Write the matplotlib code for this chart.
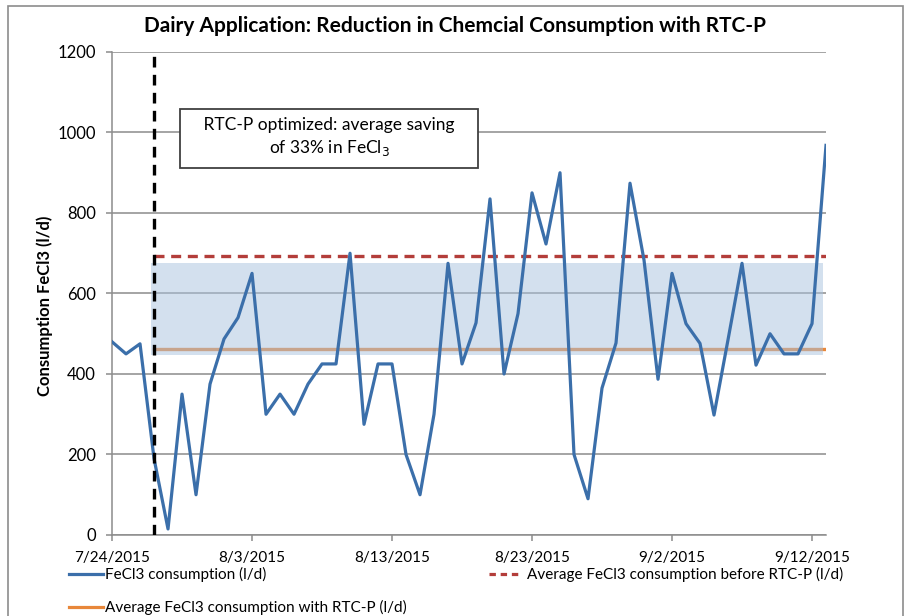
import pandas as pd
import matplotlib.pyplot as plt
from matplotlib.lines import Line2D
from matplotlib.patches import Rectangle

plt.rcParams['font.family'] = ['Lato', 'DejaVu Sans']

# daily FeCl3 consumption (l/d), 7/24/2015 - 9/13/2015
start = '2015-07-24'
consumption = [480, 450, 475, 190, 15, 350, 100, 375, 487, 540,
               650, 300, 350, 300, 375, 425, 425, 700, 275, 425,
               425, 200, 100, 300, 675, 425, 527, 835, 400, 550,
               850, 723, 900, 200, 90, 365, 477, 874, 683, 387,
               650, 525, 476, 298, 485, 675, 422, 500, 450, 450,
               525, 968]
dates = pd.date_range(start, periods=len(consumption), freq='D')

rtc_start = pd.Timestamp('2015-07-27')
avg_before = 693
avg_with = 463
band_low, band_high = 447, 675
band_start = pd.Timestamp('2015-07-26 18:00')
band_end = pd.Timestamp('2015-09-12 18:00')

tick_dates = pd.to_datetime(['2015-07-24', '2015-08-03', '2015-08-13',
                             '2015-08-23', '2015-09-02', '2015-09-12'])
tick_labels = ['7/24/2015', '8/3/2015', '8/13/2015', '8/23/2015', '9/2/2015', '9/12/2015']

blue = '#3b6faa'
red = '#b33d3a'
orange = '#e8873a'

fig = plt.figure(figsize=(9.1, 6.16), dpi=100)
ax = fig.add_axes([0.1231, 0.1315, 0.7846, 0.7841])

# outer chart border
fig.patches.append(Rectangle((0.009, -0.02), 0.983, 1.01, transform=fig.transFigure,
                             fill=False, edgecolor='#8c8c8c', lw=1.2))

ax.plot([rtc_start, dates[-1]], [avg_with, avg_with], color=orange, lw=2.4, zorder=2)
ax.fill_between([band_start, band_end], band_low, band_high, color='#a8c2de',
                alpha=0.5, lw=0, zorder=3)
ax.plot([rtc_start, dates[-1]], [avg_before, avg_before], color=red, lw=2.4,
        dashes=(3, 2), zorder=4)
ax.plot(dates, consumption, color=blue, lw=2.3, zorder=5)
ax.axvline(rtc_start, color='black', lw=2.4, dashes=(3.2, 2.2), zorder=6)

ax.set_xlim(dates[0], dates[-1])
ax.set_ylim(0, 1200)
ax.set_yticks(range(0, 1201, 200))
ax.set_xticks(tick_dates)
ax.set_xticklabels(tick_labels)
ax.grid(axis='y', color='#8c8c8c', lw=1.1)
ax.set_axisbelow(True)
for s in ['top', 'right']:
    ax.spines[s].set_visible(False)
for s in ['left', 'bottom']:
    ax.spines[s].set_color('#8c8c8c')
    ax.spines[s].set_linewidth(1.1)
ax.tick_params(axis='both', colors='#8c8c8c', length=4.5, width=1.1, labelcolor='black')
ax.tick_params(axis='x', pad=7, labelsize=11)
ax.tick_params(axis='y', pad=7, labelsize=12)

ax.set_ylabel('Consumption FeCl3 (l/d)', fontsize=12, fontweight='bold')
ax.yaxis.set_label_coords(-0.083, 0.475)
fig.text(0.5, 0.957, 'Dairy Application: Reduction in Chemcial Consumption with RTC-P',
         ha='center', va='center', fontsize=15, fontweight='bold')

ax.text(pd.Timestamp('2015-08-08 12:00'), 988,
        '   RTC-P optimized: average saving   \nof 33% in FeCl$_3$',
        ha='center', va='center', fontsize=12.5, linespacing=1.3, zorder=7,
        bbox=dict(boxstyle='square,pad=0.6', fc='white', ec='#404040', lw=1.3))

h_blue = Line2D([], [], color=blue, lw=2.3)
h_orange = Line2D([], [], color=orange, lw=2.3)
h_red = Line2D([], [], color=red, lw=2.3, dashes=(2, 1.5))
fig.legend([h_blue, h_orange], ['FeCl3 consumption (l/d)',
                                'Average FeCl3 consumption with RTC-P (l/d)'],
           loc='upper left', bbox_to_anchor=(0.076, 0.079), frameon=False,
           fontsize=11, handlelength=2.2, handletextpad=0.15, labelspacing=1.15,
           borderaxespad=0, borderpad=0)
fig.legend([h_red], ['Average FeCl3 consumption before RTC-P (l/d)'],
           loc='upper left', bbox_to_anchor=(0.537, 0.079), frameon=False,
           fontsize=11, handlelength=2.0, handletextpad=0.5,
           borderaxespad=0, borderpad=0)

fig.savefig('out.png', dpi=100)
